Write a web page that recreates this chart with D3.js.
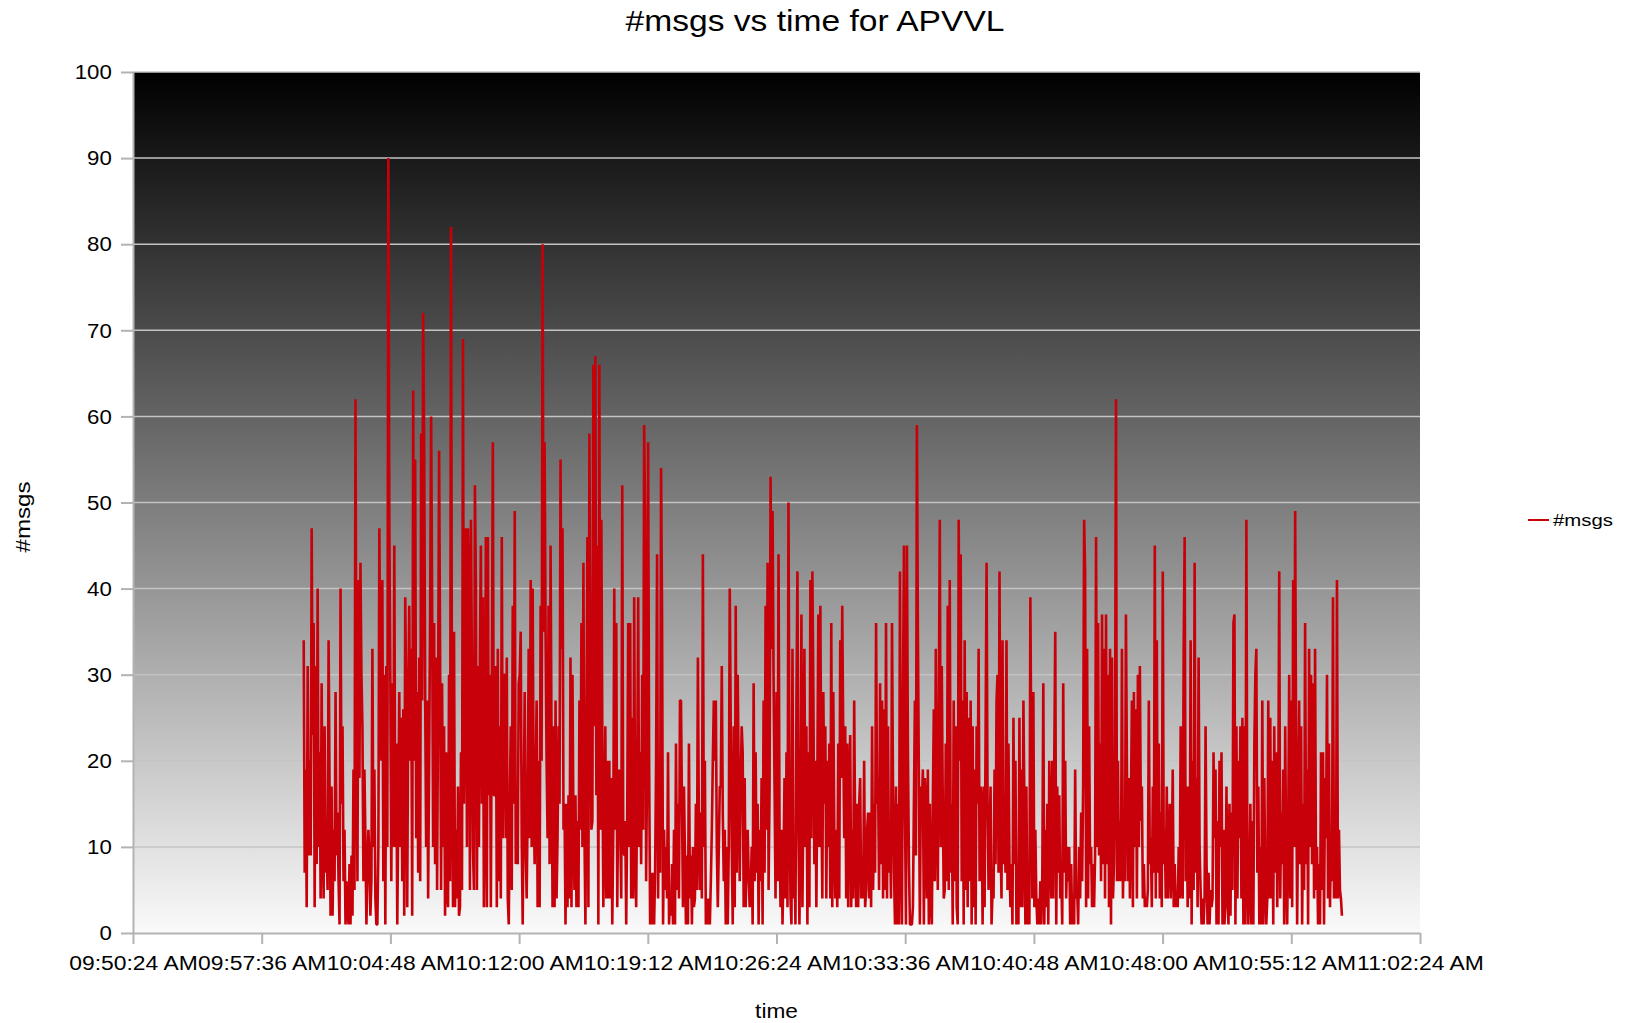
<!DOCTYPE html>
<html>
<head>
<meta charset="utf-8">
<script src="https://cdn.jsdelivr.net/npm/d3@7"></script>
<style>
  body { margin: 0; background: #fff; }
  svg text { font-family: "Liberation Sans", Arial, sans-serif; fill: #000; }
</style>
</head>
<body>
<svg id="chart" width="1630" height="1023"></svg>
<script>
// --- datos ---
const xTickLabels = ['09:50:24 AM', '09:57:36 AM', '10:04:48 AM', '10:12:00 AM', '10:19:12 AM', '10:26:24 AM',
  '10:33:36 AM', '10:40:48 AM', '10:48:00 AM', '10:55:12 AM', '11:02:24 AM'];
const yTicks = [0, 10, 20, 30, 40, 50, 60, 70, 80, 90, 100];
const tStart = '09:59:57 AM';
const tEnd = '10:58:02 AM';

// #msgs leídos a ojo, tramo por tramo
const msgsPart1 = [34,7,19,3,31,9,20,9,47,23,36,3,31,8,40,10,21,4,29,12,4,24,7,
  10,5,34,17,2,17,2,12,6,28,9,14,6,1,40,15,24,6,12,1,6,3,1,8,1,9,2,19,5,62,24,6,41,18,43,30,24,6,19,11,1,7,12,9,2,6,33,10,19,4,1,1,10,47,28,20,41,6,30,1,31,10,
  90,48,30,6,29,10,45,10,22,1,14,28,10];
const msgsPart2 = [25,6,26,2,39,27,3,27,38,20,33,2,63,20,55,11,28,7,32,6,58,27,72,57,28,10,27,4,20,37,
  60,39,10,36,8,32,5,27,56,33,5,29,10,24,2,21,5,3,30,6,82,20,3,35,3,12,4,17,2,3,
  21,5,69,15,27,47,10,47,39,5,48,31,10,5,52,40,5,31,10,33,45,15,39,3,16,46,3,46,16,30,
  3,30,57,16,16,31,3,33,6,24,4,46,11,30];
const msgsPart3 = [30,11,32,4,1,15,24,5,38,15,49,8,16,8,29,30,35,11,1,15,28,10,4,15,33,11,41,10,40,15,
  8,18,27,3,20,3,38,20,80,35,57,35,20,11,38,8,45,21,3,24,3,27,4,11,24,15,55,33,47,12,
  15,1,15,3,16,4,32,3,30,12,5,16,3,13,3,27,12,36,10,43,12,1,22,46,3,58,35,12,13,66,
  24,67,16,45,1,66,12,48,23,3,12,24,4,20,4];
const msgsPart4 = [20,4,18,1,12,40,12,36,3,17,19,12,4,52,10,9,13,1,14,36,10,36,4,25,4,39,10,3,18,39,
  10,21,8,30,12,59,48,6,20,57,20,1,7,1,7,1,7,20,44,4,18,7,54,37,1,12,5,10,4,21,
  1,4,2,8,1,12,1,22,5,15,4,27,27,15,3,17,9,1,9,1,22,4,9,1,10,3,4,15,5,32,
  12,5,14,4,44,10,20,1,4,1,4,1,6,12,20,27];
const msgsPart5 = [20,27,10,3,10,17,17,31,14,6,12,1,10,1,10,40,24,10,1,24,3,38,7,30,18,6,17,24,21,3,
  18,3,8,12,7,3,4,10,1,29,6,21,7,15,1,12,6,18,1,27,7,38,12,43,5,17,53,33,49,30,
  17,4,28,6,44,12,3,12,1,8,18,4,21,3,50,17,4,1,33,4,9,1,27,42,12,1,14,37,3,16,
  33,10,24,1,21,3,41,11,42,28,8,20,3,18,37,10];
const msgsPart6 = [38,17,4,28,15,24,4,20,10,22,4,36,3,28,12,4,12,3,22,4,34,18,38,23,11,24,4,22,3,17,
  23,3,12,4,27,11,3,15,3,15,18,4,8,4,20,3,5,12,14,4,14,3,24,5,15,7,36,15,18,5,
  29,8,27,4,26,5,36,4,24,7,12,4,36,17,7,1,17,1,15,1,42,11,1,27,45,15,1,45,21,8,
  1,1,1,3,15,27,9,59,35,18,1,17,15,19,1,18];
const msgsPart7 = [14,4,19,1,15,4,1,15,26,6,33,15,5,26,48,10,31,15,4,5,22,6,38,5,41,7,15,1,27,6,
  24,3,1,48,20,44,6,27,1,34,5,28,3,25,6,27,1,24,3,19,1,24,15,33,6,17,15,1,17,3,
  23,43,15,5,11,17,1,5,4,19,8,27,30,7,42,11,4,34,8,15,7,34,5,22,8,3,8,1,25,8,
  20,1,8,1,25,3,19,3,27,15,1,17,1,5,1,39];
const msgsPart8 = [19,4,28,3,12,4,1,4,1,6,1,7,29,1,12,3,15,1,20,12,4,20,4,20,35,1,17,7,16,
  4,7,1,29,7,20,4,10,6,10,1,8,1,4,1,19,4,5,1,10,4,14,6,17,48,42,3,33,4,24,
  8,10,3,8,3,9,46,10,36,9,22,6,37,8,33,4,37,8,30,3,33,1,32,4,8,19,62,6,20,6,
  13,6,33,4,13,6,37,19,6,18,4,15,27,3,28,10];
const msgsPart9 = [26,4,30,10,31,13,17,4,8,3,4,3,5,27,8,11,3,17,7,45,4,34,7,22,4,14,3,42,8,
  12,4,17,4,10,15,4,8,19,3,8,3,4,3,10,4,24,5,4,33,46,6,17,3,17,4,34,1,20,5,
  43,7,18,3,32,10,5,1,4,1,4,24,8,1,7,1,5,3,4,21,11,19,1,13,1,20,10,21,1,12,
  1,4,17,4,1,15,2,14,5,36,37,1,24,4,20,11];
const msgsPart10 = [24,4,25,1,24,1,48,7,1,6,15,1,13,1,22,30,33,7,17,1,10,1,27,1,18,6,1,4,27,4,
  25,4,20,1,24,7,21,3,14,42,4,14,8,19,1,24,8,1,12,30,4,27,3,41,10,49,21,1,15,27,
  8,24,1,15,5,36,8,19,1,33,10,30,8,29,4,33,5,10,1,8,1,21,5,21,1,18,11,30,4,22,
  3,11,6,39,4,13,4,41,4,12,5,4,2];

const parseT = d3.timeParse('%I:%M:%S %p');
const formatT = d3.timeFormat('%I:%M:%S %p');

const msgs = [].concat(msgsPart1, msgsPart2, msgsPart3, msgsPart4, msgsPart5,
  msgsPart6, msgsPart7, msgsPart8, msgsPart9, msgsPart10);
const t0 = parseT(tStart), t1 = parseT(tEnd);
const dt = (t1 - t0) / (msgs.length - 1);
const data = msgs.map((v, i) => ({ time: new Date(+t0 + i * dt), msgs: v }));

// --- layout ---
const margin = { top: 72, left: 133 };
const width = 1287;
const height = 861;
const RED = '#c8000a';
const AXIS = '#b3b3b3';

const svg = d3.select('#chart');

// texto estirado un poco en horizontal, como en el original
function stretchText(sel, sx) {
  sel.each(function () {
    const t = d3.select(this);
    const x = +t.attr('x') || 0, y = +t.attr('y') || 0;
    t.attr('transform', `translate(${x},${y}) scale(${sx},1)`).attr('x', 0).attr('y', 0);
  });
}

const defs = svg.append('defs');
const grad = defs.append('linearGradient')
  .attr('id', 'bg').attr('x1', 0).attr('y1', 0).attr('x2', 0).attr('y2', 1);
grad.append('stop').attr('offset', '0%').attr('stop-color', '#000');
grad.append('stop').attr('offset', '100%').attr('stop-color', '#fafafa');

const g = svg.append('g').attr('transform', `translate(${margin.left},${margin.top})`);

const x = d3.scaleTime()
  .domain([parseT(xTickLabels[0]), parseT(xTickLabels[xTickLabels.length - 1])])
  .range([0, width]);
const y = d3.scaleLinear().domain([0, 100]).range([height, 0]);

g.append('rect')
  .attr('width', width).attr('height', height)
  .attr('fill', 'url(#bg)');

// rejilla
g.append('g').selectAll('line')
  .data(yTicks.filter(d => d > 0))
  .enter().append('line')
  .attr('x1', 0).attr('x2', width)
  .attr('y1', d => y(d)).attr('y2', d => y(d))
  .attr('stroke', '#c4c4c4')
  .attr('stroke-width', 1.5);

// ejes
const xAxis = g.append('g')
  .attr('transform', `translate(0,${height})`)
  .call(d3.axisBottom(x)
    .tickValues(xTickLabels.map(parseT))
    .tickFormat(formatT)
    .tickSize(11).tickSizeOuter(0).tickPadding(11));

const yAxis = g.append('g')
  .call(d3.axisLeft(y)
    .tickValues(yTicks)
    .tickSize(12).tickSizeOuter(0).tickPadding(8));

[xAxis, yAxis].forEach(a => {
  a.select('.domain').attr('stroke', AXIS).attr('stroke-width', 2);
  a.selectAll('.tick line').attr('stroke', AXIS).attr('stroke-width', 2);
  a.selectAll('text')
    .attr('fill', '#000')
    .style('font-size', '21px')
    .style('font-family', '"Liberation Sans", Arial, sans-serif');
});
xAxis.selectAll('.tick text').attr('transform', 'scale(1.09,1)');
yAxis.selectAll('.tick text').attr('transform', 'scale(1.06,1)');

// serie
const line = d3.line()
  .x(d => x(d.time))
  .y(d => y(d.msgs));

g.append('path')
  .datum(data)
  .attr('fill', 'none')
  .attr('stroke', RED)
  .attr('stroke-width', 2.6)
  .attr('stroke-linejoin', 'bevel')
  .attr('d', line);

// títulos
svg.append('text')
  .attr('x', 815).attr('y', 31)
  .attr('text-anchor', 'middle')
  .style('font-size', '30px')
  .text('#msgs vs time for APVVL')
  .call(stretchText, 1.12);

svg.append('text')
  .attr('x', margin.left + width / 2).attr('y', 1018)
  .attr('text-anchor', 'middle')
  .style('font-size', '21px')
  .text('time')
  .call(stretchText, 1.08);

svg.append('text')
  .attr('transform', 'translate(30,517) rotate(-90) scale(1.15,1)')
  .attr('text-anchor', 'middle')
  .style('font-size', '21px')
  .text('#msgs');

// leyenda
const legend = svg.append('g').attr('transform', 'translate(1528,520)');
legend.append('line')
  .attr('x1', 0).attr('x2', 21)
  .attr('stroke', RED).attr('stroke-width', 2);
legend.append('text')
  .attr('x', 25).attr('y', 6)
  .style('font-size', '17px')
  .text('#msgs')
  .call(stretchText, 1.2);
</script>
</body>
</html>
